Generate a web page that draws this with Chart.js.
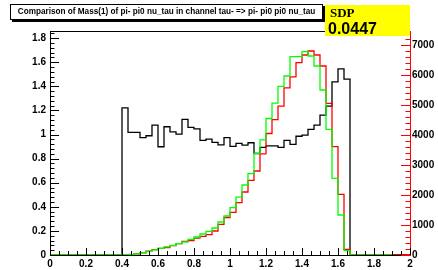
<!DOCTYPE html>
<html>
<head>
<meta charset="utf-8">
<script src="https://cdn.jsdelivr.net/npm/chart.js@4.4.1/dist/chart.umd.min.js"></script>
<style>
  html, body { margin: 0; padding: 0; background: #fff; }
  #wrap { position: relative; width: 438px; height: 270px; overflow: hidden; }
  #title {
    position: absolute; left: 10px; top: 4px; width: 311px; height: 14px;
    border: 1px solid #000; box-shadow: 2px 2px 0 #000; background: #fff;
    font: bold 8.2px "Liberation Sans", Arial, sans-serif; line-height: 14px;
    text-align: center; white-space: nowrap; color: #000; z-index: 2;
  }
  #sdp {
    position: absolute; left: 325px; top: 5px; width: 85px; height: 31px;
    background: #ffff00; color: #000; z-index: 1;
  }
  #sdp .lbl { position: absolute; left: 5px; top: 1px; font: bold 13px/13px "Liberation Serif", "Times New Roman", serif; }
  #sdp .val { position: absolute; left: 3px; top: 16px; font: bold 16px/16px "Liberation Sans", Arial, sans-serif; }
</style>
</head>
<body>
<div id="wrap">
  <canvas id="massChart" width="438" height="270"></canvas>
  <div id="title">Comparison of Mass(1) of pi- pi0 nu_tau in channel tau- =&gt; pi- pi0 pi0 nu_tau</div>
  <div id="sdp"><span class="lbl">SDP</span><span class="val">0.0447</span></div>
</div>
<script>
// Histogram binning: 60 bins from 0 to 2
const xMin = 0;
const xMax = 2;
const nBins = 60;

// Black histogram (left axis)
const blackValues = [
    0, 0, 0, 0, 0, 0, 0, 0, 0, 0, 0, 0,
    1.222, 1.018, 1.018, 0.975, 0.99, 1.079, 0.899, 1.065, 1.023, 1.004,
    1.126, 1.06, 1.048, 0.952, 0.963, 0.935, 0.915, 0.974, 0.902, 0.927,
    0.912, 0.932, 0.843, 0.894, 0.906, 0.906, 0.894, 0.951, 0.918, 0.986,
    0.996, 1.043, 1.079, 1.162, 1.237, 1.438, 1.546, 1.461,
    0, 0, 0, 0, 0, 0, 0, 0, 0, 0
];

// Red histogram (right axis, counts)
const redValues = [
    0, 0, 0, 0, 0, 0, 0, 0, 0, 0, 0, 0, 0,
    15, 40, 75, 130, 180, 220, 250, 310, 380, 450,
    480, 560, 620, 680, 800, 1020, 1250, 1420, 1744, 2100,
    2490, 2800, 3370, 4050, 4510, 4960, 5570, 5940, 6411, 6667,
    6800, 6667, 6300, 5056, 3611, 2022, 189,
    0, 0, 0, 0, 0, 0, 0, 0, 0, 0
];

// Green histogram (right axis, counts)
const greenValues = [
    0, 0, 0, 0, 0, 0, 0, 0, 0, 0, 0, 0, 0,
    20, 40, 75, 120, 170, 220, 270, 320, 380, 440,
    520, 600, 700, 790, 900, 1100, 1300, 1580, 1930, 2333,
    2710, 3389, 3840, 4550, 5060, 5620, 5967, 6611, 6611, 6778,
    6633, 6300, 5500, 4189, 2556, 1333, 144,
    0, 0, 0, 0, 0, 0, 0, 0, null, null
];

// Axis ranges and tick steps
const leftMax = 1.86;
const rightMax = 7467;
const xTickStep = 0.2;
const leftTickStep = 0.2;
const rightTickStep = 1000;

const FONT = '"Liberation Sans", Arial, sans-serif';

// Turn bin contents into step-line points (left edges + closing point)
function toSteps(values) {
    const w = (xMax - xMin) / nBins;
    const pts = values.map((v, i) => ({ x: xMin + i * w, y: v }));
    const last = values[values.length - 1];
    pts.push({ x: xMax, y: last });
    return pts;
}

function fmt(v) {
    return String(Number(v.toFixed(3)));
}

// fixed tick list for a scale
function stepTicks(scale, step) {
    const ticks = [];
    for (let v = scale.min; v <= scale.max + 1e-9; v += step) {
        ticks.push({ value: Number(v.toFixed(6)) });
    }
    scale.ticks = ticks;
}

// Draws ROOT-style ticks pointing into the frame
const innerTicks = {
    id: 'innerTicks',
    afterDatasetsDraw(chart) {
        const { ctx, chartArea: a, scales } = chart;
        ctx.save();
        ctx.lineWidth = 1;

        function run(scale, step, sub, draw) {
            const minor = step / sub;
            const n = Math.round((scale.max - scale.min) / minor + 1e-6);
            for (let k = 0; k <= n; k++) {
                const v = scale.min + k * minor;
                if (v > scale.max + 1e-9) break;
                draw(Math.round(scale.getPixelForValue(v)) + 0.5, k % sub === 0);
            }
        }

        ctx.strokeStyle = '#000';
        ctx.beginPath();
        run(scales.x, xTickStep, 4, (p, major) => {
            ctx.moveTo(p, a.bottom);
            ctx.lineTo(p, a.bottom - (major ? 7 : 4));
        });
        run(scales.y, leftTickStep, 5, (p, major) => {
            ctx.moveTo(a.left, p);
            ctx.lineTo(a.left + (major ? 9 : 4.5), p);
        });
        ctx.stroke();

        // top of frame
        ctx.beginPath();
        ctx.moveTo(a.left, Math.round(a.top) + 0.5);
        ctx.lineTo(a.right, Math.round(a.top) + 0.5);
        ctx.stroke();

        ctx.strokeStyle = '#ff0000';
        ctx.beginPath();
        run(scales.y1, rightTickStep, 5, (p, major) => {
            ctx.moveTo(a.right, p);
            ctx.lineTo(a.right - (major ? 9 : 4.5), p);
        });
        ctx.stroke();
        ctx.restore();
    }
};

const lineStyle = {
    stepped: 'before',
    borderWidth: 1.3,
    pointRadius: 0,
    fill: false,
    spanGaps: false
};

const tickFont = { family: FONT, size: 10, weight: 'bold' };

const ctx = document.getElementById('massChart').getContext('2d');
new Chart(ctx, {
    type: 'line',
    data: {
        datasets: [
            Object.assign({ label: 'green', data: toSteps(greenValues), borderColor: '#00ff00', yAxisID: 'y1' }, lineStyle),
            Object.assign({ label: 'red', data: toSteps(redValues), borderColor: '#ff0000', yAxisID: 'y1' }, lineStyle),
            Object.assign({ label: 'black', data: toSteps(blackValues), borderColor: '#000000', yAxisID: 'y' }, lineStyle)
        ]
    },
    options: {
        responsive: false,
        animation: false,
        events: [],
        layout: { padding: { top: 31, left: 0, right: 0, bottom: 0 } },
        plugins: { legend: { display: false }, tooltip: { enabled: false } },
        scales: {
            x: {
                type: 'linear',
                min: xMin,
                max: xMax,
                afterFit: s => { s.height = 15; },
                afterBuildTicks: s => stepTicks(s, xTickStep),
                grid: { display: false, drawTicks: false },
                border: { color: '#000', width: 1 },
                ticks: {
                    autoSkip: false,
                    maxRotation: 0,
                    padding: 3,
                    color: '#000',
                    font: tickFont,
                    callback: v => fmt(v)
                }
            },
            y: {
                position: 'left',
                min: 0,
                max: leftMax,
                afterFit: s => { s.width = 50; },
                afterBuildTicks: s => stepTicks(s, leftTickStep),
                grid: { display: false, drawTicks: false },
                border: { color: '#000', width: 1 },
                ticks: {
                    autoSkip: false,
                    padding: 4,
                    color: '#000',
                    font: tickFont,
                    callback: v => fmt(v)
                }
            },
            y1: {
                position: 'right',
                min: 0,
                max: rightMax,
                afterFit: s => { s.width = 28; },
                afterBuildTicks: s => stepTicks(s, rightTickStep),
                grid: { display: false, drawTicks: false },
                border: { color: '#ff0000', width: 1 },
                ticks: {
                    autoSkip: false,
                    padding: 2,
                    color: '#000',
                    font: tickFont,
                    callback: v => fmt(v)
                }
            }
        }
    },
    plugins: [innerTicks]
});
</script>
</body>
</html>
